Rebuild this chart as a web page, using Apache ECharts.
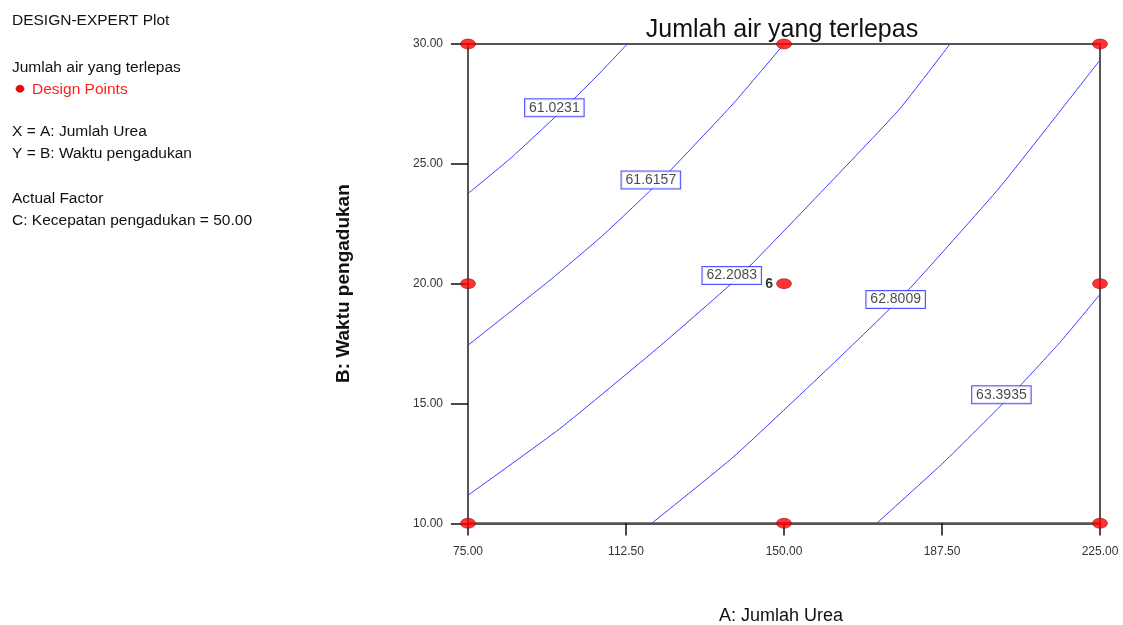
<!DOCTYPE html>
<html>
<head>
<meta charset="utf-8">
<script src="https://cdn.jsdelivr.net/npm/echarts@6/dist/echarts.min.js"></script>
<style>html,body{margin:0;padding:0;background:#fff;overflow:hidden}#c{width:1123px;height:630px}</style>
</head>
<body>
<div id="c"></div>
<script>
// ---- data ----
const xTicks = [75, 112.5, 150, 187.5, 225];
const yTicks = [10, 15, 20, 25, 30];
const contourLevels = ['61.0231', '61.6157', '62.2083', '62.8009', '63.3935'];
const contour1 = [[75,23.76],[85.3,25.26],[98.0,27.34],[106.3,28.79],[112.8,30]];
const contour2 = [[75,17.43],[94.5,20.15],[107.1,22.03],[120.8,24.32],[138,27.52],[150,30]];
const contour3 = [[75,11.17],[96.8,13.95],[120.6,17.4],[139.8,20.37],[161.7,24.35],[177.5,27.3],[189.4,30]];
const contour4 = [[118.6,10],[138,12.77],[161.7,16.67],[178.8,19.6],[201.3,24.04],[225,29.33]];
const contour5 = [[172,10],[188,12.56],[204,15.36],[215.5,17.55],[225,19.55]];
const labelX = [95.5, 118.4, 137.6, 176.5, 201.6];
const labelY = [27.34, 24.32, 20.34, 19.34, 15.36];
const designX = [75, 75, 75, 150, 150, 150, 225, 225, 225];
const designY = [10, 20, 30, 10, 20, 30, 10, 20, 30];
const centerReplicates = 6;

const sy = 1.008;

const contours = [contour1, contour2, contour3, contour4, contour5];
const font = '"Liberation Sans", Arial, sans-serif';
const lineColor = '#3c3cff';

const series = contours.map(c => ({
  type: 'line', data: c, smooth: 0.15, symbol: 'none', z: 2,
  lineStyle: {color: lineColor, width: 1}, silent: true
}));
series.push({
  type: 'scatter', z: 5, symbolSize: 0, silent: true,
  data: contourLevels.map((v, i) => ({name: v, value: [labelX[i], labelY[i]]})),
  label: {
    show: true, position: 'inside', formatter: p => p.name,
    fontFamily: font, fontSize: 14, color: '#1a1a1a',
    backgroundColor: '#fff', borderColor: '#2525ff', borderWidth: 1,
    padding: [2, 4, 1, 4]
  }
});
series.push({
  type: 'scatter', z: 6, symbol: 'circle', symbolSize: [15, 10], silent: true,
  itemStyle: {color: '#ff0000', borderColor: '#700', borderWidth: 0.6},
  data: designX.map((x, i) => {
    const d = {value: [x, designY[i]]};
    if (x === 150 && designY[i] === 20) {
      d.label = {show: true, position: 'left', distance: 3, formatter: String(centerReplicates),
        fontFamily: font, fontSize: 14, fontWeight: 'bold', color: '#000'};
    }
    return d;
  })
});

const chart = echarts.init(document.getElementById('c'), null, {renderer: 'canvas'});
const tf = '15.5px ' + font;
const Y = v => Math.round(v * sy * 10) / 10;
chart.setOption({
  animation: false,
  backgroundColor: '#fff',
  title: {
    text: 'Jumlah air yang terlepas', left: 777, top: Y(13), textAlign: 'center',
    textStyle: {fontFamily: font, fontSize: 25, fontWeight: 'normal', color: '#111'}
  },
  grid: {left: 468, top: 44, width: 632, height: 483, show: true, borderColor: '#555', borderWidth: 2},
  xAxis: {
    type: 'value', min: 75, max: 225, interval: 37.5,
    name: 'A: Jumlah Urea', nameLocation: 'middle', nameGap: Y(83),
    nameTextStyle: {fontFamily: font, fontSize: 18, color: '#111', padding: [0, 6, 0, 0]},
    axisLine: {show: true, lineStyle: {color: '#555', width: 2}},
    axisTick: {show: true, inside: false, length: Y(12), lineStyle: {color: '#111', width: 1.5}},
    axisLabel: {formatter: v => v.toFixed(2), margin: Y(22), fontFamily: font, fontSize: 12, color: '#333'},
    splitLine: {show: false}
  },
  yAxis: {
    type: 'value', min: 10, max: 30, interval: 5,
    name: 'B: Waktu pengadukan', nameLocation: 'middle', nameGap: 115, nameRotate: 90,
    nameTextStyle: {fontFamily: font, fontSize: 19, fontWeight: 'bold', color: '#111'},
    axisLine: {show: true, lineStyle: {color: '#555', width: 2}},
    axisTick: {show: true, inside: false, length: 17, lineStyle: {color: '#111', width: 1.5}},
    axisLabel: {formatter: v => v.toFixed(2), margin: 25, fontFamily: font, fontSize: 12, color: '#333'},
    splitLine: {show: false}
  },
  graphic: [
    {type: 'text', left: 12, top: Y(13), style: {text: 'DESIGN-EXPERT Plot', font: tf, fill: '#111'}},
    {type: 'text', left: 12, top: Y(59), style: {text: 'Jumlah air yang terlepas', font: tf, fill: '#111'}},
    {type: 'ellipse', shape: {cx: 20, cy: Y(88), rx: 4, ry: 3.5}, style: {fill: '#f00', stroke: '#700', lineWidth: 0.6}},
    {type: 'text', left: 32, top: Y(81), style: {text: 'Design Points', font: tf, fill: '#ff2020'}},
    {type: 'text', left: 12, top: Y(123), style: {text: 'X = A: Jumlah Urea', font: tf, fill: '#111'}},
    {type: 'text', left: 12, top: Y(145), style: {text: 'Y = B: Waktu pengadukan', font: tf, fill: '#111'}},
    {type: 'text', left: 12, top: Y(189), style: {text: 'Actual Factor', font: tf, fill: '#111'}},
    {type: 'text', left: 12, top: Y(211), style: {text: 'C: Kecepatan pengadukan = 50.00', font: tf, fill: '#111'}}
  ],
  series: series
});
</script>
</body>
</html>
